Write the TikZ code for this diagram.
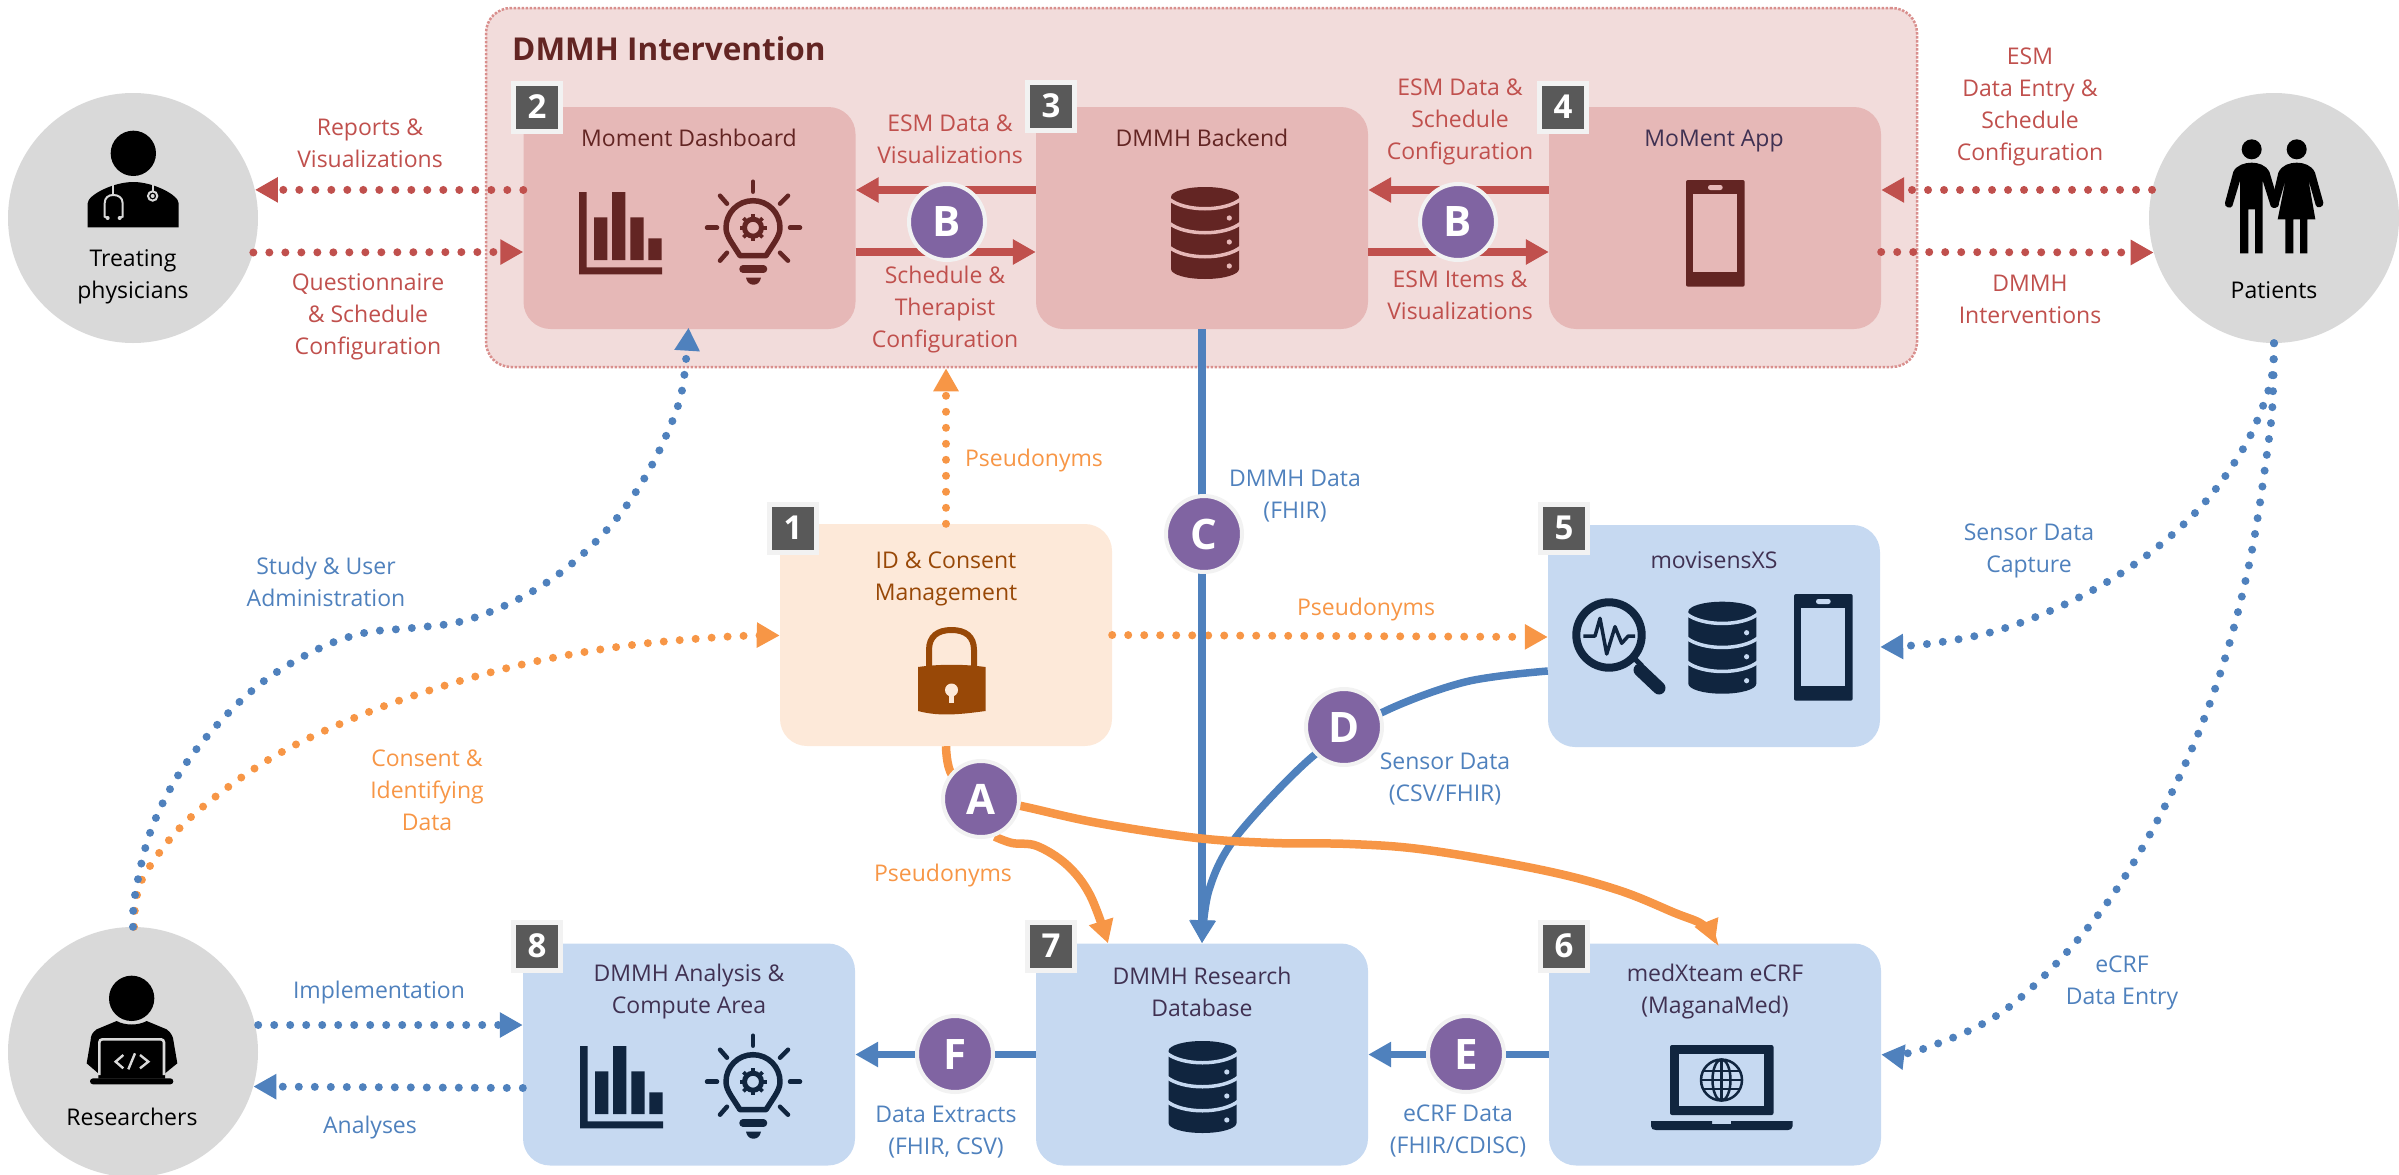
\documentclass[tikz,border=0pt]{standalone}
\usepackage{fontspec}
\setmainfont{Open Sans}
\usetikzlibrary{arrows.meta}
\definecolor{cRed}{HTML}{C0504D}
\definecolor{cBlue}{HTML}{4F81BD}
\definecolor{cOrange}{HTML}{F79646}
\definecolor{cCont}{HTML}{F2DCDB}
\definecolor{cRedBox}{HTML}{E6B8B7}
\definecolor{cPeach}{HTML}{FDE9D9}
\definecolor{cBlueBox}{HTML}{C6D9F1}
\definecolor{cMaroon}{HTML}{632523}
\definecolor{cNavy}{HTML}{10253F}
\definecolor{cBrown}{HTML}{984807}
\definecolor{cPlum}{HTML}{403152}
\definecolor{cBadge}{HTML}{595959}
\definecolor{cRim}{HTML}{F2F2F2}
\definecolor{cGray}{HTML}{D9D9D9}
\definecolor{cPurple}{HTML}{8064A2}
\definecolor{cBorder}{HTML}{D98F8D}
\pgfdeclarelayer{back}
\pgfdeclarelayer{conn}
\pgfsetlayers{back,conn,main}
\tikzset{
  >={Triangle[length=23pt,width=24pt]},
  boxnode/.style={rectangle,rounded corners=27pt,minimum width=332pt,minimum height=222pt,inner sep=0pt,draw=none},
  person/.style={circle,minimum size=250pt,inner sep=0pt,fill=cGray,draw=none},
  badge/.style={rectangle,minimum width=47pt,minimum height=48pt,inner sep=0pt,fill=cBadge,draw=cRim,line width=5pt,text=white,font=\fontsize{33}{33}\selectfont\bfseries},
  pcirc/.style={circle,minimum size=76pt,inner sep=0pt,fill=cPurple,draw=cRim,line width=4pt,text=white,font=\fontsize{42}{42}\selectfont\bfseries},
  lbl/.style={align=center,inner sep=0pt,font=\fontsize{23}{32}\selectfont},
  redl/.style={lbl,text=cRed},
  bluel/.style={lbl,text=cBlue},
  orl/.style={lbl,text=cOrange},
  dotline/.style={line width=8pt,line cap=round,dash pattern=on 0pt off 16pt},
  solidline/.style={line width=7.5pt},
  orangeline/.style={line width=8.5pt},
}
\newcommand{\icbars}[3]{\begin{scope}[shift={(#1,#2)}]
  \fill[#3] (0,0) rectangle (7.5,82.3) (0,75.3) rectangle (83,82.3)
    (15,25.3) rectangle (28.3,68) (33,0) rectangle (46.3,68)
    (51.3,25.3) rectangle (64.7,68) (69.3,46.3) rectangle (82.7,68);
\end{scope}}
\newcommand{\icbulb}[3]{\begin{scope}[shift={(#1,#2)}]
  \foreach \a/\b/\c/\d in {0/-46/0/-36, -33/-32/-26/-24, 35/-32/27/-24, -46/0/-36/0, 37/0/47/0, -33/33/-26/25, 35/33/27/25}
    \draw[#3,line width=4.5pt,line cap=round] (\a,\b)--(\c,\d);
  \draw[#3,line width=5.5pt,line join=round] (-13,28)--(-22,14) .. controls (-25,9) and (-27,5) .. (-27,0) .. controls (-27,-15) and (-15,-27) .. (0,-27) .. controls (15,-27) and (27,-15) .. (27,0) .. controls (27,5) and (25,9) .. (22,14)--(13,28)--cycle;
  \draw[#3,line width=5pt] (0,0) circle[radius=8.5];
  \foreach \t in {0,45,...,315} \draw[#3,line width=3.8pt] (\t:10)--(\t:13.5);
  \draw[#3,line width=7.5pt,line cap=round] (-10,41.5)--(10.5,41.5);
  \fill[#3] (-7,50)--(8,50) .. controls (7,55) and (4,57) .. (0.5,57) .. controls (-3,57) and (-6,55) .. cycle;
\end{scope}}
\newcommand{\icdb}[4]{\begin{scope}[shift={(#1,#2)}]
  \fill[#3] (-34,10) .. controls (-34,4.5) and (-19,0) .. (0,0) .. controls (19,0) and (34,4.5) .. (34,10) -- (34,82) .. controls (34,87.5) and (19,92) .. (0,92) .. controls (-19,92) and (-34,87.5) .. (-34,82) -- cycle;
  \foreach \d in {0,24,48} {
    \draw[#4,line width=3.5pt] (-36,12+\d) .. controls (-20,25+\d) and (20,25+\d) .. (36,12+\d);
    \fill[#4] (24.3,31+\d) circle[radius=2.6];
  }
\end{scope}}
\newcommand{\icphone}[4]{\begin{scope}[shift={(#1,#2)}]
  \fill[#3,rounded corners=2pt] (0,0) rectangle (58.7,106.7);
  \fill[#4] (7,14.3) rectangle (51.3,92);
  \fill[#4,rounded corners=2.4pt] (22,5) rectangle (36.7,10);
\end{scope}}
\begin{document}
\begin{tikzpicture}[x=1pt,y=-1pt]
\useasboundingbox (0,0) rectangle (2399,1175);
% ---------- back: container + boxes
\begin{pgfonlayer}{back}
\node[rectangle,rounded corners=25pt,minimum width=1431pt,minimum height=359pt,inner sep=0pt,fill=cCont,draw=cBorder,line width=2.5pt,dash pattern=on 2.5pt off 1.5pt] (cont) at (1201.5,187.5) {};
\node[boxnode,fill=cRedBox] (b2) at (689.5,218) {};
\node[boxnode,fill=cRedBox] (b3) at (1202,218) {};
\node[boxnode,fill=cRedBox] (b4) at (1715,218) {};
\node[boxnode,fill=cPeach] (b1) at (946,635) {};
\node[boxnode,fill=cBlueBox] (b5) at (1714,636) {};
\node[boxnode,fill=cBlueBox] (b8) at (689,1054.5) {};
\node[boxnode,fill=cBlueBox] (b7) at (1202,1054.5) {};
\node[boxnode,fill=cBlueBox] (b6) at (1715,1054.5) {};
\node[person] (phys) at (133,218) {};
\node[person] (pat) at (2274,218) {};
\node[person] (res) at (133,1052) {};
\end{pgfonlayer}
% ---------- purple circles
\node[pcirc] (B1) at (947,222) {B};
\node[pcirc] (B2) at (1458,222) {B};
\node[pcirc] (C) at (1204,534) {C};
\node[pcirc] (D) at (1344,727) {D};
\node[pcirc] (A) at (981,799) {A};
\node[pcirc] (F) at (955,1054) {F};
\node[pcirc] (E) at (1466,1054) {E};
% ---------- badges
\node[badge] at (537,107) {2};
\node[badge] at (1051,106) {3};
\node[badge] at (1563,107) {4};
\node[badge] at (793,528) {1};
\node[badge] at (1564,528) {5};
\node[badge] at (537,946) {8};
\node[badge] at (1051,946) {7};
\node[badge] at (1564,946) {6};
% ---------- connectors
\begin{pgfonlayer}{conn}
% red dotted
\draw[->,dotline,cRed] ([yshift=28pt]b2.west) -- (phys.13);
\draw[->,dotline,cRed] (phys.-16) -- ([yshift=-34pt]b2.west);
\draw[->,dotline,cRed] (pat.167) -- ([yshift=28pt]b4.east);
\draw[->,dotline,cRed] ([yshift=-34pt]b4.east) -- (pat.196);
% red solid
\draw[->,solidline,cRed] ([yshift=28pt]b3.west) -- ([yshift=28pt]b2.east);
\draw[->,solidline,cRed] ([yshift=-34pt]b2.east) -- ([yshift=-34pt]b3.west);
\draw[->,solidline,cRed] ([yshift=28pt]b4.west) -- ([yshift=28pt]b3.east);
\draw[->,solidline,cRed] ([yshift=-34pt]b3.east) -- ([yshift=-34pt]b4.west);
% orange dotted
\draw[->,dotline,cOrange] (b1.north) -- (b1.north |- cont.south);
\draw[->,dotline,cOrange] (b1.east) -- ([yshift=-1pt]b5.west);
\draw[->,dotline,cOrange] plot[smooth,tension=0.6] coordinates {([xshift=1pt]res.north) (137,895) (150,866) (191,817) (268,760) (354,718) (445,685.5) (537.5,661) (632,645) (728,636.6) ([yshift=-0.5pt]b1.west)};
% blue dotted
\draw[->,dotline,cBlue] plot[smooth,tension=0.6] coordinates {(res.north) (135,895) (150,833) (178,775.5) (217,725) (264,681) (318,649) (364,633) (412,628) (459,622) (504,606) (546,583) (584,553) (617,518) (644,479) (666,436) (682,390.5) ([yshift=1.5pt,xshift=-1pt]b2.south)};
\draw[->,dotline,cBlue] plot[smooth,tension=0.6] coordinates {(pat.south) (2272,375) (2263,406) (2243,449) (2206,501) (2160,545) (2107,582) (2050,611) (1990,632.5) (1927,644) ([yshift=-11pt]b5.east)};
\draw[->,dotline,cBlue] plot[smooth,tension=0.6] coordinates {(pat.south) (2273,391) (2269,438.5) (2249,565) (2215,689) (2165,806) (2098,915) (2009,1007) (1923,1049) (b6.east)};
\draw[->,dotline,cBlue] ([yshift=27pt]res.east) -- ([yshift=29.5pt]b8.west);
\draw[->,dotline,cBlue] ([yshift=-33.5pt]b8.west) -- (res.-16);
% blue solid
\draw[->,solidline,cBlue] (b3.south) -- (b7.north);
\draw[->,solidline,cBlue] plot[smooth,tension=0.55] coordinates {([yshift=-35pt]b5.west) (1465,682) (1381,713) (1312,757) (1236,837) (1209,890) (b7.north)};
\draw[->,solidline,cBlue] (b7.west) -- (b8.east);
\draw[->,solidline,cBlue] (b6.west) -- (b7.east);
% orange solid
\draw[orangeline,cOrange] plot[smooth,tension=0.6] coordinates {(b1.south) (952,775) (A.center)};
\draw[->,orangeline,cOrange] plot[smooth,tension=0.6] coordinates {(A.-70) (1012,843) (1037,846) (1067,865) (1090,895) ([xshift=-94pt]b7.north)};
\draw[->,orangeline,cOrange] plot[smooth,tension=0.6] coordinates {(A.center) (1021,806) (1098,823) (1197,838) (1274,843) (1350,844) (1427,850) (1542,870) (1618,890) (1675,913) (1703,925) (b6.north)};
\end{pgfonlayer}
% ---------- text
\node[lbl,font=\fontsize{31.5}{34}\selectfont\bfseries,text=cMaroon,anchor=west] at (512,49) {DMMH Intervention};
\node[lbl,text=cMaroon] at (689,138) {Moment Dashboard};
\node[lbl,text=cMaroon] at (1202,138) {DMMH Backend};
\node[lbl,text=cPlum] at (1714,141) {MoMent App};
\node[lbl,text=cBrown] at (946,579) {ID \& Consent\\Management};
\node[lbl,text=cPlum] at (1714,560) {movisensXS};
\node[lbl,text=cPlum] at (689,992) {DMMH Analysis \&\\Compute Area};
\node[lbl,text=cPlum] at (1202,992) {DMMH Research\\Database};
\node[lbl,text=cPlum] at (1715,992) {medXteam eCRF\\(MaganaMed)};
\node[lbl,text=black] at (133,277) {Treating\\physicians};
\node[lbl,text=black] at (2274,290) {Patients};
\node[lbl,text=black] at (132,1117) {Researchers};
\node[redl] at (370,143) {Reports \&\\Visualizations};
\node[redl] at (368,317) {Questionnaire\\\& Schedule\\Configuration};
\node[redl] at (950,139) {ESM Data \&\\Visualizations};
\node[redl] at (945,309.5) {Schedule \&\\Therapist\\Configuration};
\node[redl] at (1460,122) {ESM Data \&\\Schedule\\Configuration};
\node[redl] at (1460,295) {ESM Items \&\\Visualizations};
\node[redl] at (2030,107) {ESM\\Data Entry \&\\Schedule\\Configuration};
\node[redl] at (2030,299) {DMMH\\Interventions};
\node[orl] at (1034,461) {Pseudonyms};
\node[orl] at (1366,609.5) {Pseudonyms};
\node[orl] at (943,876) {Pseudonyms};
\node[orl] at (427,790) {Consent \&\\Identifying\\Data};
\node[bluel] at (1295,496) {DMMH Data\\(FHIR)};
\node[bluel] at (326,581.5) {Study \& User\\Administration};
\node[bluel] at (1445,778.5) {Sensor Data\\(CSV/FHIR)};
\node[bluel] at (2029,550.5) {Sensor Data\\Capture};
\node[bluel] at (2122,982.5) {eCRF\\Data Entry};
\node[bluel] at (379,993) {Implementation};
\node[bluel] at (370,1127.5) {Analyses};
\node[bluel] at (946,1132) {Data Extracts\\(FHIR, CSV)};
\node[bluel] at (1458,1130.5) {eCRF Data\\(FHIR/CDISC)};
% ---------- icons
\icbars{579}{192}{cMaroon}
\icbulb{753}{227.7}{cMaroon}
\icbars{580}{1046}{cNavy}
\icbulb{753}{1081.7}{cNavy}
\icdb{1205}{187}{cMaroon}{cRedBox}
\icdb{1202.5}{1041}{cNavy}{cBlueBox}
\icdb{1722.3}{601.7}{cNavy}{cBlueBox}
\icphone{1686}{180}{cMaroon}{cRedBox}
\icphone{1794}{594}{cNavy}{cBlueBox}
% magnifier
\draw[cNavy,line width=8pt] (1609,635) circle[radius=32.7];
\draw[cNavy,line width=5pt] (1634,658)--(1642,666);
\draw[cNavy,line width=13pt,line cap=round] (1640,670)--(1659,688);
\draw[cNavy,line width=3.5pt,line join=round] (1583.3,636)--(1595,636)--(1600,618.3)--(1606.7,654)--(1615,626.7)--(1621.7,643.3)--(1628.3,636)--(1635,636);
% lock
\draw[cBrown,line width=6pt] (929,668)--(929,650) .. controls (929,636) and (938,630) .. (951.5,630) .. controls (965,630) and (974,636) .. (974,650)--(974,668);
\fill[cBrown] (918,667) .. controls (940,664) and (963,664) .. (985.5,667)--(985.5,711) .. controls (963,714) and (940,717) .. (918,711)--cycle;
\fill[cPeach] (951.5,690) circle[radius=6.5];
\fill[cPeach] (949,692)--(954,692)--(954,703)--(949,703)--cycle;
% laptop
\fill[cNavy,rounded corners=2pt] (1670,1045) rectangle (1773.5,1115);
\fill[cBlueBox] (1679.4,1054) rectangle (1764,1105.7);
\fill[cNavy] (1651,1121)--(1712,1121)--(1712,1124)--(1731,1124)--(1731,1121)--(1792.6,1121)--(1792.6,1126) .. controls (1792.6,1129) and (1790,1130) .. (1788,1130)--(1656,1130) .. controls (1653,1130) and (1651,1129) .. (1651,1126)--cycle;
\draw[cNavy,line width=2.5pt] (1721.5,1080) circle[radius=20.5];
\draw[cNavy,line width=2.5pt] (1721.5,1080) circle[x radius=9,y radius=20.5];
\draw[cNavy,line width=2.5pt] (1721.5,1059.5)--(1721.5,1100.5) (1701,1080)--(1742,1080) (1703.5,1071)--(1739.5,1071) (1703.5,1089)--(1739.5,1089);
% physician
\begin{scope}[shift={(60,120)},x=0.33333pt,y=-0.33333pt]
\fill[black] (220,100) circle[radius=68];
\fill[black] (83,322)--(83,250) .. controls (83,225) and (160,186) .. (220,186) .. controls (280,186) and (356,225) .. (356,250)--(356,322)--cycle;
\draw[cGray,line width=2pt] (160,195)--(160,225);
\draw[cGray,line width=2pt] (143,294)--(134,290)--(134,250) .. controls (134,232) and (146,225) .. (160,225) .. controls (174,225) and (188,232) .. (188,250)--(188,290)--(179,294);
\fill[cGray] (143,294) circle[radius=6] (179,294) circle[radius=6];
\draw[cGray,line width=2pt] (278,195)--(278,214);
\draw[cGray,line width=2pt,fill=black] (278,228) circle[radius=14];
\fill[cGray] (278,228) circle[radius=6];
\end{scope}
% patients
\begin{scope}[shift={(2200,130)},x=0.33333pt,y=-0.33333pt]
\fill[black] (155,58) circle[radius=30] (290,58) circle[radius=30];
\fill[black] (120,370)--(120,152)--(97,228) .. controls (92,238) and (72,232) .. (75,218)--(100,125) .. controls (110,105) and (135,98) .. (155,98) .. controls (175,98) and (197,105) .. (208,125)--(237,222) .. controls (238,235) and (215,238) .. (212,228)--(188,152)--(188,370)--(165,370)--(165,238)--(145,238)--(145,370)--cycle;
\fill[black] (233,268)--(257,148)--(235,225) .. controls (232,235) and (215,232) .. (213,222)--(235,128) .. controls (245,105) and (270,98) .. (290,98) .. controls (310,98) and (335,105) .. (345,128)--(370,218) .. controls (372,232) and (350,238) .. (347,225)--(325,148)--(346,268)--(322,268)--(322,370)--(300,370)--(300,268)--(280,268)--(280,370)--(256,370)--(256,268)--cycle;
\end{scope}
% researcher
\begin{scope}[shift={(60,960)},x=0.33333pt,y=-0.33333pt]
\fill[black] (215,115) circle[radius=68];
\fill[black] (170,183) .. controls (195,197) and (235,197) .. (260,183)--(320,208) .. controls (335,218) and (340,235) .. (340,240)--(352,310)--(315,340)--(315,356)--(115,356)--(115,340)--(80,310)--(92,240) .. controls (92,230) and (95,218) .. (110,208)--cycle;
\fill[black,rounded corners=3pt] (90,355) rectangle (340,373);
\draw[cGray,line width=2.6pt,rounded corners=3pt] (118,345)--(118,238)--(312,238)--(312,345);
\draw[cGray,line width=2.4pt,line join=miter] (190,285)--(167,305)--(190,325) (240,285)--(265,305)--(240,325) (225,280)--(205,328);
\end{scope}
\end{tikzpicture}
\end{document}
